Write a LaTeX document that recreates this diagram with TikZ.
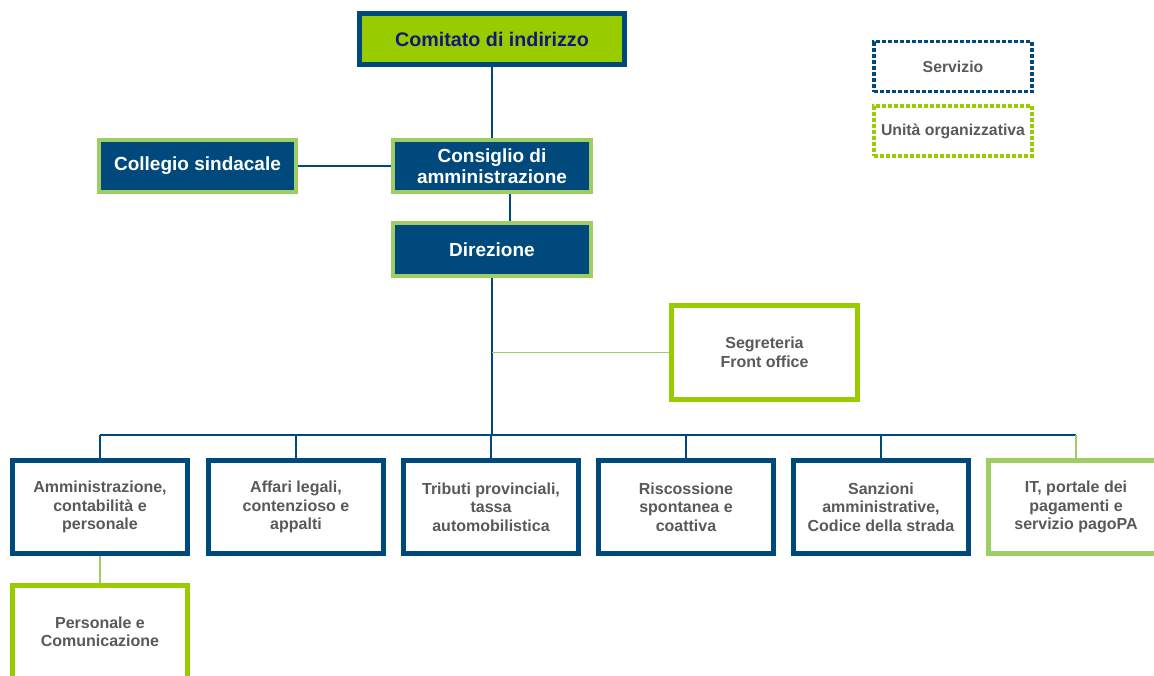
\documentclass[tikz,border=0pt]{standalone}
\usepackage{fontspec}
\setmainfont{Liberation Sans}
\usetikzlibrary{positioning}
\definecolor{darkblue}{RGB}{0,73,125}
\definecolor{brightgreen}{RGB}{153,204,0}
\definecolor{lightgreen}{RGB}{158,205,100}
\definecolor{navytext}{RGB}{22,22,122}
\definecolor{textgray}{RGB}{89,89,89}

\begin{document}
\begin{tikzpicture}[x=1pt,y=-1pt,line width=1.8pt,node distance=27pt]
    \tikzstyle{box}=[rectangle,align=center,inner sep=2pt]
    \tikzstyle{board}=[box,fill=darkblue,draw=lightgreen,line width=4pt,text=white,
        minimum width=198pt,minimum height=52pt,font=\bfseries\fontsize{19}{21}\selectfont]
    \tikzstyle{service}=[box,fill=white,draw=darkblue,line width=5pt,text=textgray,
        minimum width=175pt,minimum height=93pt,font=\bfseries\fontsize{16}{18.5}\selectfont]
    \tikzstyle{unit}=[service,draw=brightgreen]
    \tikzstyle{it unit}=[service,draw=lightgreen]
    \tikzstyle{legend}=[box,line width=3.5pt,dash pattern=on 4pt off 2pt,text=textgray,
        minimum width=158pt,minimum height=50pt,font=\bfseries\fontsize{15.8}{18}\selectfont]
    \tikzstyle{link}=[draw=darkblue]
    \tikzstyle{unit link}=[draw=lightgreen]

    \useasboundingbox (0,0) rectangle (1154,675);

    % Top of the organisation
    \node[box,fill=brightgreen,draw=darkblue,line width=5pt,text=navytext,
        minimum width=265pt,minimum height=51pt,
        font=\bfseries\fontsize{19.7}{22}\selectfont] (comitato) at (492,39) {Comitato di indirizzo};
    \node[board] (consiglio) at (492,166) {Consiglio di\\amministrazione};
    \node[board,minimum width=197pt] (collegio) at (197.5,166) {Collegio sindacale};
    \node[board,minimum height=53pt] (direzione) at (492,249.5) {Direzione};

    % Legend
    \node[legend,draw=darkblue] (servizio) at (953,66.5) {Servizio};
    \node[legend,draw=brightgreen] (unita) at (953,131) {Unità organizzativa};

    % Staff unit
    \node[unit,minimum width=186pt,minimum height=94pt] (segreteria) at (764.5,352.5) {Segreteria\\Front office};

    % Services
    \foreach \name/\x/\kind/\txt in {
        1/100/service/{Amministrazione,\\contabilità e\\personale},
        2/296/service/{Affari legali,\\contenzioso e\\appalti},
        3/491/service/{Tributi provinciali,\\tassa\\automobilistica},
        4/686/service/{Riscossione\\spontanea e\\coattiva},
        5/881/service/{Sanzioni\\amministrative,\\Codice della strada},
        6/1076/it unit/{IT, portale dei\\pagamenti e\\servizio pagoPA}}
        \node[\kind] (A-\name) at (\x,507) {\txt};

    \node[unit,below=of A-1] (personale) {Personale e\\Comunicazione};

    \coordinate (bus) at (492,435);

    % Connect the boxes
    \draw[link] (comitato.south) -- (consiglio.north);
    \draw[link] (collegio.east) -- (consiglio.west);
    \draw[link] ([xshift=18pt]consiglio.south) -- ([xshift=18pt]direzione.north);
    \draw[link] (direzione.south) -- (bus);
    \draw[unit link] (segreteria.west -| direzione.south) -- (segreteria.west);
    \draw[link] (A-1.north |- bus) -- (A-6.north |- bus);
    \foreach \i in {1,...,5}
        \draw[link] (A-\i.north) -- (A-\i.north |- bus);
    \draw[unit link] (A-6.north) -- (A-6.north |- bus);
    \draw[unit link] (A-1.south) -- (personale.north);
\end{tikzpicture}
\end{document}
